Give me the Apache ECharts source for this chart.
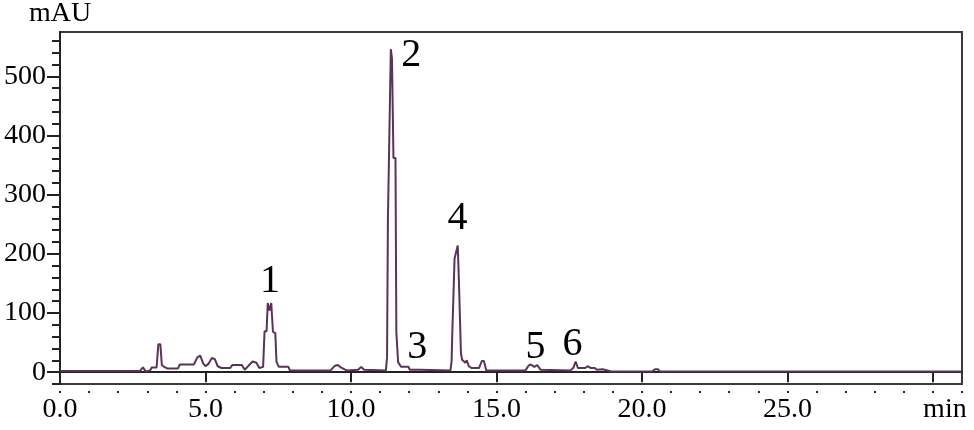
<!DOCTYPE html>
<html>
<head>
    <meta charset="utf-8">
    <title>HPLC chromatogram</title>
    <script src="https://cdn.jsdelivr.net/npm/echarts@6/dist/echarts.min.js"></script>
    <style>
        html, body { margin: 0; padding: 0; background: #fff; }
        #chart1 { width: 974px; height: 430px; }
    </style>
</head>
<body>
<div id="chart1"></div>
<script type="text/javascript">
    // retention time (min) and absorbance (mAU)
    var times = [0.0, 2.75, 2.85, 2.95, 3.10, 3.15, 3.32, 3.38, 3.45, 3.50, 3.58, 3.70, 4.05, 4.12, 4.60,
        4.72, 4.82, 4.92, 5.00, 5.10, 5.22, 5.32, 5.42, 5.55, 5.85, 5.92, 6.25, 6.35, 6.50, 6.62, 6.75,
        6.85, 6.98, 7.03, 7.10, 7.14, 7.20, 7.26, 7.32, 7.40, 7.44, 7.52, 7.85, 7.90, 9.30, 9.45, 9.55,
        9.65, 9.85, 10.25, 10.35, 10.45, 11.20, 11.24, 11.27, 11.33, 11.37, 11.41, 11.46, 11.53, 11.56,
        11.62, 11.68, 11.72, 11.98, 12.02, 12.25, 12.30, 12.38, 13.42, 13.46, 13.48, 13.54, 13.56, 13.62,
        13.67, 13.71, 13.75, 13.78, 13.82, 13.93, 13.98, 14.05, 14.15, 14.40, 14.50, 14.57, 14.65, 16.00,
        16.10, 16.18, 16.30, 16.40, 16.52, 17.55, 17.65, 17.72, 17.80, 18.05, 18.13, 18.25, 18.38, 18.45,
        18.65, 18.95, 20.35, 20.45, 20.55, 20.62, 31.0];
    var mAU = [2, 2, 8, 1, 3, 8, 8, 47, 47, 12, 9, 6, 6, 13, 13,
        25, 28, 15, 10, 14, 24, 22, 10, 7, 7, 12, 12, 4, 12, 18, 16,
        7, 9, 69, 69, 117, 104, 117, 68, 66, 18, 9, 9, 3, 3, 11, 12,
        8, 3, 4, 9, 4, 3, 25, 258, 258, 546, 530, 362, 362, 67,
        17, 15, 9, 9, 4, 4, 7, 4, 3, 20, 62, 62, 192, 195,
        214, 153, 153, 32, 21, 16, 20, 10, 7, 7, 19, 19, 3, 3,
        11, 13, 9, 12, 4, 3, 8, 18, 7, 7, 10, 7, 7, 4,
        5, 1, 1, 5, 5, 1, 1];

    // peak numbers and where their labels sit (min, mAU)
    var peakNames = ['1', '2', '3', '4', '5', '6'];
    var peakTimes = [7.22, 12.07, 12.28, 13.66, 16.34, 17.61];
    var peakLabelY = [153, 535, 42, 259, 42, 47];

    // axis ticks
    var xMajorTicks = [0, 5, 10, 15, 20, 25, 30];
    var xMinorTicks = [];
    for (var i = 0; i <= 31; i++) xMinorTicks.push(i);
    var yMajorTicks = [0, 100, 200, 300, 400, 500];
    var yMinorTicks = [];
    for (var j = -20; j <= 560; j += 20) yMinorTicks.push(j);

    var serif = '"Liberation Serif", "Times New Roman", serif';
    var axisColor = '#222';
    var lineColor = '#5a3358';

    var trace = times.map(function (t, k) { return [t, mAU[k]]; });
    var peaks = peakNames.map(function (n, k) { return { name: n, value: [peakTimes[k], peakLabelY[k]] }; });

    var myChart1 = echarts.init(document.getElementById('chart1'), null, { renderer: 'canvas' });
    myChart1.setOption({
        animation: false,
        grid: {
            left: 60, right: 12, top: 27, bottom: 46,
            show: true, borderColor: '#3a3a3a', borderWidth: 2, backgroundColor: '#fff'
        },
        xAxis: [
            {
                type: 'value', min: 0, max: 31, position: 'bottom',
                axisLine: { lineStyle: { color: axisColor, width: 2 } },
                axisTick: { show: false }, axisLabel: { show: false }, splitLine: { show: false }
            },
            {
                type: 'value', min: 0, max: 31, position: 'bottom', offset: 4,
                axisLine: { show: false },
                axisTick: { customValues: xMajorTicks, length: 10, lineStyle: { color: axisColor, width: 2 } },
                axisLabel: {
                    customValues: xMajorTicks, margin: 8, color: '#000',
                    fontSize: 28, fontFamily: serif,
                    formatter: function (v) {
                        if (v === 30) return '{m|min}';
                        return v.toFixed(1);
                    },
                    rich: { m: { fontSize: 28, fontFamily: serif, color: '#000', padding: [0, 0, 0, 24] } }
                },
                splitLine: { show: false }
            },
            {
                type: 'value', min: 0, max: 31, position: 'bottom', offset: 7,
                axisLine: { show: false },
                axisTick: { customValues: xMinorTicks, length: 2, lineStyle: { color: axisColor, width: 2 } },
                axisLabel: { show: false }, splitLine: { show: false }
            }
        ],
        yAxis: [
            {
                type: 'value', min: -20, max: 575, position: 'left',
                axisLine: { show: true, lineStyle: { color: axisColor, width: 2 } },
                axisTick: { customValues: yMinorTicks, length: 8, lineStyle: { color: axisColor, width: 2 } },
                axisLabel: { show: false }, splitLine: { show: false }
            },
            {
                type: 'value', min: -20, max: 575, position: 'left',
                axisLine: { show: false },
                axisTick: { customValues: yMajorTicks, length: 13, lineStyle: { color: axisColor, width: 2 } },
                axisLabel: { customValues: yMajorTicks, margin: 14, color: '#000', fontSize: 28, fontFamily: serif },
                splitLine: { show: false },
                name: 'mAU', nameLocation: 'end', nameGap: 4,
                nameTextStyle: { color: '#000', fontSize: 28, fontFamily: serif, align: 'center' }
            }
        ],
        series: [
            {
                name: 'trace', type: 'line', xAxisIndex: 0, yAxisIndex: 0,
                data: trace, symbol: 'none', silent: true,
                lineStyle: { color: lineColor, width: 2 }
            },
            {
                name: 'peaks', type: 'scatter', xAxisIndex: 0, yAxisIndex: 0,
                data: peaks, symbolSize: 0, silent: true,
                itemStyle: { opacity: 1 },
                label: {
                    show: true, position: 'inside', formatter: '{b}',
                    color: '#000', fontSize: 40, fontFamily: serif,
                    textBorderWidth: 0, textBorderColor: 'transparent', opacity: 1
                }
            }
        ]
    });
</script>
</body>
</html>
